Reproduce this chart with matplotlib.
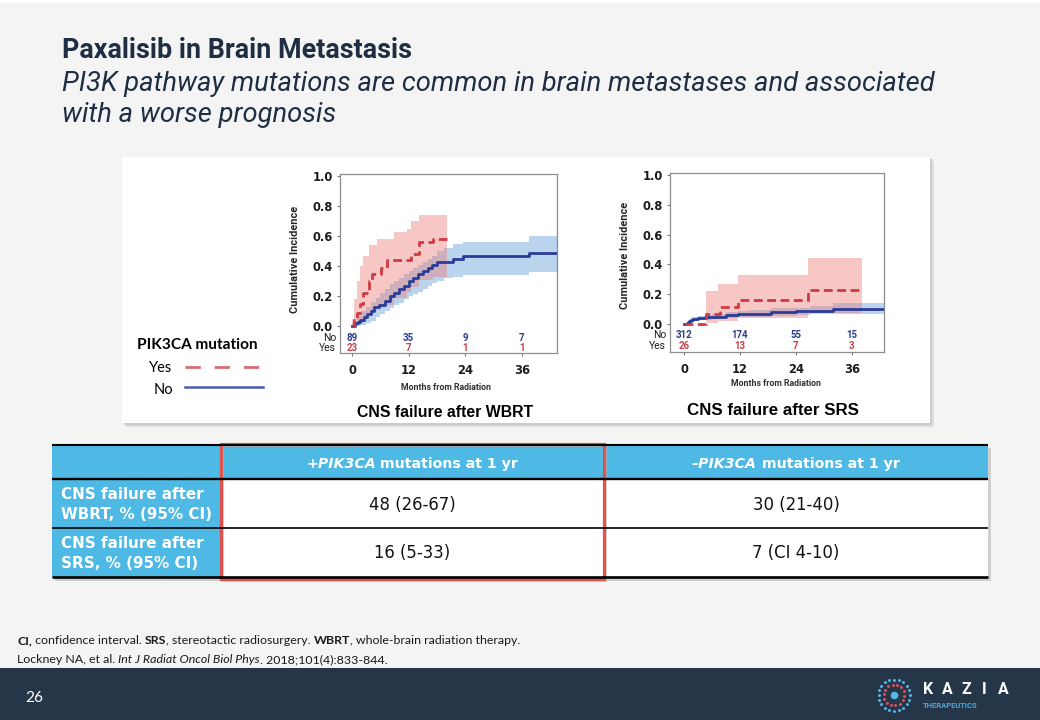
import matplotlib
matplotlib.use('Agg')
import matplotlib.pyplot as plt
from matplotlib import font_manager
from matplotlib.patches import Rectangle
import numpy as np

# ---------------- data ----------------
month_ticks = [0, 12, 24, 36]
incidence_ticks = [0.0, 0.2, 0.4, 0.6, 0.8, 1.0]

# WBRT panel - PIK3CA mutation: Yes
wbrt_yes_t = [0, 0.5, 1.1, 1.8, 2.4, 3.6, 4.2, 6.2, 7.4, 12.6, 14.3, 17.1, 20.1]
wbrt_yes_y = [0.0, 0.04, 0.09, 0.15, 0.22, 0.30, 0.35, 0.39, 0.44, 0.48, 0.56, 0.58, 0.58]
wbrt_yes_ci_t = [0, 0.5, 1.1, 1.8, 2.4, 3.6, 5.3, 8.8, 11.6, 12.6, 14.3, 17.1, 20.1]
wbrt_yes_ci_hi = [0.05, 0.18, 0.30, 0.40, 0.47, 0.54, 0.58, 0.63, 0.65, 0.70, 0.74, 0.74, 0.74]
wbrt_yes_ci_lo = [0.0, 0.0, 0.01, 0.03, 0.06, 0.10, 0.14, 0.19, 0.23, 0.26, 0.31, 0.33, 0.33]
# WBRT panel - PIK3CA mutation: No
wbrt_no_t = [0, 0.6, 1.2, 1.8, 2.6, 3.2, 4.0, 4.6, 5.8, 7.0, 8.0, 9.0, 10.0, 11.0, 12.0,
             13.0, 14.0, 15.0, 16.0, 17.0, 18.0, 21.5, 23.5, 37.4, 43.4]
wbrt_no_y = [0.0, 0.02, 0.03, 0.04, 0.06, 0.08, 0.10, 0.13, 0.14, 0.17, 0.20, 0.22, 0.25, 0.27, 0.30,
             0.32, 0.35, 0.37, 0.39, 0.41, 0.43, 0.45, 0.47, 0.49, 0.49]
wbrt_no_ci_t = [0, 1, 2, 3, 4, 5, 6, 7, 8, 9, 10, 11, 12, 13, 14, 15, 16, 17, 18, 19.5,
                21.5, 23.5, 37.4, 43.4]
wbrt_no_ci_hi = [0.02, 0.07, 0.10, 0.13, 0.16, 0.19, 0.22, 0.25, 0.28, 0.30, 0.32, 0.35, 0.37, 0.39,
                 0.41, 0.43, 0.45, 0.47, 0.50, 0.52, 0.55, 0.56, 0.60, 0.60]
wbrt_no_ci_lo = [0.0, 0.0, 0.005, 0.02, 0.035, 0.06, 0.08, 0.10, 0.12, 0.14, 0.155, 0.18, 0.20, 0.215,
                 0.23, 0.25, 0.27, 0.285, 0.30, 0.32, 0.33, 0.34, 0.36, 0.36]
wbrt_risk_no = [89, 35, 9, 7]
wbrt_risk_yes = [23, 7, 1, 1]

# SRS panel - Yes
srs_yes_t = [0, 4.8, 7.7, 11.6, 26.6, 38.1]
srs_yes_y = [0.0, 0.07, 0.115, 0.16, 0.23, 0.23]
srs_yes_ci_t = [4.7, 7.3, 11.6, 26.6, 38.1]
srs_yes_ci_hi = [0.22, 0.27, 0.33, 0.44, 0.44]
srs_yes_ci_lo = [0.01, 0.02, 0.04, 0.075, 0.075]
# SRS panel - No
srs_no_t = [0, 0.6, 1.0, 1.4, 2.0, 3.0, 4.5, 6.0, 9.0, 11.6, 14.0, 18.7, 24.0, 27.0, 32.0, 42.9]
srs_no_y = [0.0, 0.01, 0.02, 0.03, 0.035, 0.04, 0.045, 0.05, 0.06, 0.065, 0.07, 0.08, 0.085, 0.09, 0.10, 0.10]
srs_no_ci_hi = [0.0, 0.02, 0.035, 0.045, 0.05, 0.055, 0.06, 0.07, 0.08, 0.09, 0.095, 0.105, 0.11, 0.12, 0.14, 0.14]
srs_no_ci_lo = [0.0, 0.0, 0.005, 0.015, 0.02, 0.025, 0.03, 0.035, 0.04, 0.045, 0.05, 0.055, 0.06, 0.065, 0.07, 0.07]
srs_risk_no = [312, 174, 55, 15]
srs_risk_yes = [26, 13, 7, 3]

risk_labels = ['No', 'Yes']
legend_title = 'PIK3CA mutation'
legend_labels = ['Yes', 'No']
panel_titles = ['CNS failure after WBRT', 'CNS failure after SRS']
ylabel_text = 'Cumulative Incidence'
xlabel_text = 'Months from Radiation'

table_headers = [('+PIK3CA', ' mutations at 1 yr'), ('\u2013PIK3CA', ' mutations at 1 yr')]
table_rows = [('CNS failure after', 'WBRT, % (95% CI)'), ('CNS failure after', 'SRS, % (95% CI)')]
table_values = [['48 (26-67)', '30 (21-40)'], ['16 (5-33)', '7 (CI 4-10)']]

title = 'Paxalisib in Brain Metastasis'
subtitle = ['PI3K pathway mutations are common in brain metastases and associated',
            'with a worse prognosis']
foot1 = [('CI,', 'bold', 'normal'), (' confidence interval. ', 'normal', 'normal'),
         ('SRS', 'bold', 'normal'), (', stereotactic radiosurgery. ', 'normal', 'normal'),
         ('WBRT', 'bold', 'normal'), (', whole-brain radiation therapy.', 'normal', 'normal')]
foot2 = [('Lockney NA, et al. ', 'normal', 'normal'), ('Int J Radiat Oncol Biol Phys', 'normal', 'italic'),
         ('. 2018;101(4):833-844.', 'normal', 'normal')]
page_number = '26'

# ---------------- fonts ----------------
def have(name):
    try:
        font_manager.findfont(font_manager.FontProperties(family=name), fallback_to_default=False)
        return True
    except Exception:
        return False

def pick(*names):
    for n in names:
        if have(n):
            return n
    return 'DejaVu Sans'

F_HEAD = pick('Roboto', 'Open Sans', 'DejaVu Sans')
F_NARROW = pick('Liberation Sans Narrow', 'Roboto', 'DejaVu Sans')
F_ARIAL = pick('Liberation Sans', 'DejaVu Sans')
F_CAL = pick('Lato', 'Open Sans', 'DejaVu Sans')
F_VERD = 'DejaVu Sans'

# ---------------- figure ----------------
W, H = 1040, 720
fig = plt.figure(figsize=(W / 100, H / 100), dpi=100)
fig.patch.set_facecolor('#f4f4f4')
bg = fig.add_axes([0, 0, 1, 1])
bg.set_xlim(0, W)
bg.set_ylim(H, 0)
bg.axis('off')
renderer = fig.canvas.get_renderer()

def text_w(s, **kw):
    t = bg.text(0, 0, s + '|', **kw)
    w1 = t.get_window_extent(renderer).width
    t.set_text('|')
    w2 = t.get_window_extent(renderer).width
    t.remove()
    return w1 - w2

def fit_size(s, target, **kw):
    return 10.0 * target / text_w(s, fontsize=10.0, **kw)

def rich(x, y, parts, family, color, size=10.0, target=None, ha='left', va='baseline'):
    ws = [text_w(s, fontsize=size, family=family, weight=wt, style=st) for s, wt, st in parts]
    tot = sum(ws)
    if target:
        k = target / tot
        size *= k
        ws = [w * k for w in ws]
        tot = target
    x0 = x - tot / 2 if ha == 'center' else (x - tot if ha == 'right' else x)
    for (s, wt, st), w in zip(parts, ws):
        bg.text(x0, y, s, fontsize=size, family=family, weight=wt, style=st,
                color=color, ha='left', va=va)
        x0 += w
    return size

def rect(x0, y0, x1, y1, **kw):
    bg.add_patch(Rectangle((x0, y0), x1 - x0, y1 - y0, **kw))

# top white hairline
rect(0, 0, W, 2.5, facecolor='white', lw=0)

# ---------------- title ----------------
NAVY = '#1f2e42'
s = fit_size(title, 351, family=F_HEAD, weight='bold')
bg.text(62, 58, title, fontsize=s, family=F_HEAD, weight='bold', color=NAVY, va='baseline')
s = fit_size(subtitle[0], 870, family=F_HEAD, style='italic')
bg.text(62, 91, subtitle[0], fontsize=s, family=F_HEAD, style='italic', color=NAVY, va='baseline')
bg.text(62, 122, subtitle[1], fontsize=s, family=F_HEAD, style='italic', color=NAVY, va='baseline')

# ---------------- white panel ----------------
rect(125.5, 160.5, 933.5, 426.5, facecolor='#dedede', lw=0)
rect(124, 159, 932, 425, facecolor='#cbcbcb', lw=0)
rect(122, 157, 930, 423, facecolor='white', lw=0)

# ---------------- KM panels ----------------
BLUE_LINE = '#2b3c97'
RED_LINE = '#cf3a43'
BLUE_BAND = '#bad4ed'
RED_BAND = '#ed7571'
RISK_NO = '#2e3d8c'
RISK_YES = '#c8414b'

risk_size = fit_size('312', 16.5, family=F_NARROW, weight='bold')
risk_lab_size = fit_size('Yes', 17, family=F_NARROW)

def km_panel(frame, xlim, ylim, yes_t, yes_y, yes_ci_t, yes_lo, yes_hi,
             no_t, no_y, no_ci_t, no_lo, no_hi, risk_no, risk_yes, risk_y):
    x0, y0, x1, y1 = frame
    ax = fig.add_axes([x0 / W, 1 - y1 / H, (x1 - x0) / W, (y1 - y0) / H])
    ax.set_xlim(xlim)
    ax.set_ylim(ylim)
    ax.fill_between(no_ci_t, no_lo, no_hi, step='post', color=BLUE_BAND, lw=0, zorder=1)
    ax.fill_between(yes_ci_t, yes_lo, yes_hi, step='post', color=RED_BAND, alpha=0.4, lw=0, zorder=2)
    ax.step(no_t, no_y, where='post', color=BLUE_LINE, lw=2.0, zorder=3)
    ax.step(yes_t, yes_y, where='post', color=RED_LINE, lw=2.0, zorder=4,
            linestyle=(0, (3.2, 1.6)))
    for sp in ax.spines.values():
        sp.set_color('#8e8e8e')
        sp.set_linewidth(0.9)
    ax.set_yticks(incidence_ticks)
    ax.set_yticklabels(['%.1f' % v for v in incidence_ticks], fontweight='bold',
                       family=F_VERD, fontsize=8.3, color='#1c1c1c')
    ax.set_xticks(month_ticks)
    ax.set_xticklabels([str(v) for v in month_ticks], fontweight='bold',
                       family=F_VERD, fontsize=8.3, color='#1c1c1c')
    ax.tick_params(axis='y', direction='out', length=2.5, width=0.8, color='#777777', pad=2.5)
    ax.tick_params(axis='x', direction='out', length=2.5, width=0.8, color='#777777', pad=5.5)
    for t, n in zip(month_ticks, risk_no):
        ax.text(t, risk_y[0], str(n), ha='center', va='center', color=RISK_NO,
                fontsize=risk_size, family=F_NARROW, weight='bold')
    for t, n in zip(month_ticks, risk_yes):
        ax.text(t, risk_y[1], str(n), ha='center', va='center', color=RISK_YES,
                fontsize=risk_size, family=F_NARROW, weight='bold')
    tr = ax.get_yaxis_transform()
    off = -4.0 / (x1 - x0)
    for lab, yy in zip(risk_labels, risk_y):
        ax.text(off, yy, lab, transform=tr, ha='right', va='center', color='#1c1c1c',
                fontsize=risk_lab_size, family=F_NARROW, clip_on=False)
    return ax

km_panel((340, 173.75, 557, 353), (-2.54, 43.43), (-0.18, 1.015),
         wbrt_yes_t, wbrt_yes_y, wbrt_yes_ci_t, wbrt_yes_ci_lo, wbrt_yes_ci_hi,
         wbrt_no_t, wbrt_no_y, wbrt_no_ci_t, wbrt_no_ci_lo, wbrt_no_ci_hi,
         wbrt_risk_no, wbrt_risk_yes, (-0.077, -0.147))
km_panel((670, 172.8, 884, 352), (-3.0, 42.86), (-0.188, 1.015),
         srs_yes_t, srs_yes_y, srs_yes_ci_t, srs_yes_ci_lo, srs_yes_ci_hi,
         srs_no_t, srs_no_y, srs_no_t, srs_no_ci_lo, srs_no_ci_hi,
         srs_risk_no, srs_risk_yes, (-0.074, -0.148))

# axis labels and panel titles
yl = fit_size(ylabel_text, 107, family=F_NARROW, weight='bold')
for cx, cy in [(295, 259), (625, 255)]:
    bg.text(cx, cy, ylabel_text, rotation=90, ha='center', va='center', fontsize=yl,
            family=F_NARROW, weight='bold', color='#262626')
xl = fit_size(xlabel_text, 91, family=F_NARROW, weight='bold')
for cx, by in [(446, 390), (776, 386)]:
    bg.text(cx, by, xlabel_text, ha='center', va='baseline', fontsize=xl,
            family=F_NARROW, weight='bold', color='#333333')
for (cx, by, tw), ttl in zip([(445, 417, 176), (773, 415, 172)], panel_titles):
    ts = fit_size(ttl, tw, family=F_ARIAL, weight='bold')
    bg.text(cx, by, ttl, ha='center', va='baseline', fontsize=ts, family=F_ARIAL,
            weight='bold', color='black')

# legend
ls = fit_size(legend_title, 120, family=F_CAL, weight='bold')
bg.text(137, 349.3, legend_title, fontsize=ls, family=F_CAL, weight='bold', color='black',
        va='baseline')
ys = fit_size('Yes', 23, family=F_CAL)
bg.text(172, 371.7, legend_labels[0], fontsize=ys, family=F_CAL, color='black',
        ha='right', va='baseline')
bg.text(173, 394, legend_labels[1], fontsize=ys, family=F_CAL, color='black',
        ha='right', va='baseline')
bg.plot([185, 261], [366.7, 366.7], color='#d96b77', lw=2.0, linestyle=(0, (5.5, 5.0)),
        solid_capstyle='butt')
bg.plot([185, 263], [387.3, 387.3], color='#4a5cae', lw=1.8)

# ---------------- table ----------------
TBL_BLUE = '#4db9e4'
tx = [52, 220, 604, 988]
ty = [445, 479, 528, 577]
rect(tx[0] + 3, ty[0] + 3, tx[3] + 3, ty[3] + 3.5, facecolor='#cfcfcf', lw=0)
rect(tx[0], ty[0], tx[3], ty[3], facecolor='white', lw=0)
rect(tx[0], ty[0], tx[3], ty[1], facecolor=TBL_BLUE, lw=0)
rect(tx[0], ty[1], tx[1], ty[3], facecolor=TBL_BLUE, lw=0)
for yy, lw in zip(ty, [1.5, 1.7, 1.2, 1.9]):
    bg.plot([tx[0], tx[3]], [yy, yy], color='black', lw=lw, solid_capstyle='butt')

hs = None
for (a, b), (l, r) in zip(table_headers, [(tx[1], tx[2]), (tx[2], tx[3])]):
    parts = [(a, 'bold', 'italic'), (b, 'bold', 'normal')]
    if hs is None:
        hs = rich((l + r) / 2, 468.3, parts, F_VERD, 'white', target=212, ha='center')
    else:
        rich((l + r) / 2, 468.3, parts, F_VERD, 'white', size=hs, ha='center')

rs = fit_size(table_rows[0][1], 152, family=F_VERD, weight='bold')
for (l1, l2), (b1, b2) in zip(table_rows, [(499.3, 519.3), (548.3, 568.3)]):
    bg.text(61, b1, l1, fontsize=rs, family=F_VERD, weight='bold', color='white', va='baseline')
    bg.text(61, b2, l2, fontsize=rs, family=F_VERD, weight='bold', color='white', va='baseline')

vs = fit_size(table_values[0][0], 86.7, family=F_VERD)
for row, by in zip(table_values, [510, 558.3]):
    for val, (l, r) in zip(row, [(tx[1], tx[2]), (tx[2], tx[3])]):
        bg.text((l + r) / 2, by, val, fontsize=vs, family=F_VERD, color='#111111',
                ha='center', va='baseline')

# red highlight box
rect(222.5, 445.5, 605.5, 580.5, facecolor='none', edgecolor='#bdbdbd', lw=1.5, alpha=0.6)
rect(221, 443.5, 603.5, 578.5, facecolor='none', edgecolor='#e0534d', lw=2.3)

# ---------------- footnotes ----------------
fs = rich(17, 644, foot1, F_CAL, '#1a1a1a', target=503)
rich(17, 663.3, foot2, F_CAL, '#1a1a1a', size=fs)

# ---------------- footer ----------------
rect(0, 668, W, H, facecolor='#253649', lw=0)
ps = fit_size(page_number, 18, family=F_CAL)
bg.text(25, 701.7, page_number, fontsize=ps, family=F_CAL, color='white', va='baseline')

# logo
cx, cy = 894, 695
ang = np.linspace(0, 2 * np.pi, 20, endpoint=False)
bg.scatter(cx + 15.5 * np.cos(ang), cy + 15.5 * np.sin(ang), s=4.5, color='#56b8e8', lw=0)
ang = np.linspace(0, 2 * np.pi, 14, endpoint=False) + 0.1
bg.scatter(cx + 10.5 * np.cos(ang), cy + 10.5 * np.sin(ang), s=4.5, color='#e0505c', lw=0)
bg.scatter([cx], [cy], s=30, color='#56b8e8', lw=0)
ks = fit_size('K', 10, family=F_HEAD, weight='bold')
for ch, lx in zip('KAZIA', [928, 947, 966, 984, 1003]):
    bg.text(lx, 694, ch, fontsize=ks, family=F_HEAD, weight='bold', color='white',
            ha='center', va='baseline')
ths = fit_size('THERAPEUTICS', 55, family=F_HEAD, weight='bold')
bg.text(923, 708.3, 'THERAPEUTICS', fontsize=ths, family=F_HEAD, weight='bold',
        color='#4fa6dc', va='baseline')

fig.savefig('out.png', dpi=100, facecolor=fig.get_facecolor())
